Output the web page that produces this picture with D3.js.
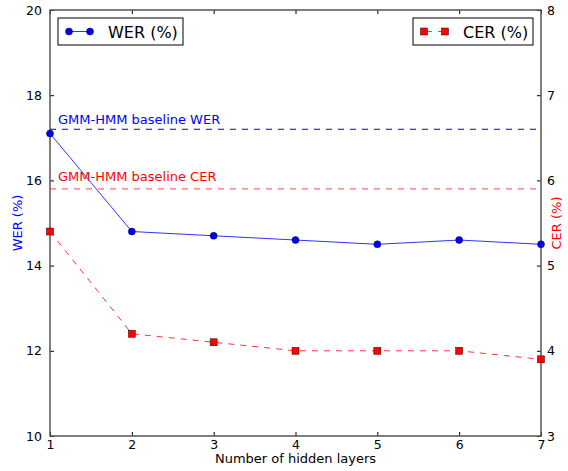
<!DOCTYPE html>
<html>
<head>
<meta charset="utf-8">
<script src="https://cdn.jsdelivr.net/npm/d3@7"></script>
<style>
  body { margin: 0; background: #fff; }
  text { font-family: "DejaVu Sans", sans-serif; }
</style>
</head>
<body>
<svg id="chart" width="568" height="471"></svg>
<script>
const layers = [1, 2, 3, 4, 5, 6, 7];
const werValues = [17.1, 14.8, 14.7, 14.6, 14.5, 14.6, 14.5];
const cerValues = [5.4, 4.2, 4.1, 4.0, 4.0, 4.0, 3.9];
const werBaseline = 17.2;
const cerBaseline = 5.9;
const werTicks = [10, 12, 14, 16, 18, 20];
const cerTicks = [3, 4, 5, 6, 7, 8];

const margin = {top: 10, right: 27, bottom: 35, left: 50};
const width = 568, height = 471;

const svg = d3.select("#chart");

const x = d3.scaleLinear().domain([1, 7]).range([margin.left, width - margin.right]);
const yW = d3.scaleLinear().domain([10, 20]).range([height - margin.bottom, margin.top]);
const yC = d3.scaleLinear().domain([3, 8]).range([height - margin.bottom, margin.top]);

// ticks point inward, like old matplotlib
const axisColor = "#555";
svg.append("g")
  .attr("transform", `translate(0,${height - margin.bottom})`)
  .call(d3.axisBottom(x).tickValues(layers).tickFormat(d3.format("d")).tickSizeInner(-4).tickSizeOuter(0).tickPadding(4))
  .call(g => g.select(".domain").remove());
svg.append("g")
  .attr("transform", `translate(0,${margin.top})`)
  .call(d3.axisTop(x).tickValues(layers).tickFormat("").tickSizeInner(-4).tickSizeOuter(0))
  .call(g => g.select(".domain").remove());
svg.append("g")
  .attr("transform", `translate(${margin.left},0)`)
  .call(d3.axisLeft(yW).tickValues(werTicks).tickFormat(d3.format("d")).tickSizeInner(-4).tickSizeOuter(0).tickPadding(8))
  .call(g => g.select(".domain").remove());
svg.append("g")
  .attr("transform", `translate(${width - margin.right},0)`)
  .call(d3.axisRight(yC).tickValues(cerTicks).tickFormat(d3.format("d")).tickSizeInner(-4).tickSizeOuter(0).tickPadding(6))
  .call(g => g.select(".domain").remove());

svg.selectAll(".tick line").attr("stroke", "#000");
svg.selectAll(".tick text").attr("font-size", 12.5).attr("fill", "#000");

// frame
svg.append("rect")
  .attr("x", margin.left).attr("y", margin.top)
  .attr("width", width - margin.left - margin.right)
  .attr("height", height - margin.top - margin.bottom)
  .attr("fill", "none").attr("stroke", axisColor).attr("stroke-width", 1.5);

// baselines
svg.append("line")
  .attr("x1", margin.left).attr("x2", width - margin.right)
  .attr("y1", yW(werBaseline)).attr("y2", yW(werBaseline))
  .attr("stroke", "#0000cc").attr("stroke-width", 1).attr("stroke-dasharray", "6,6");
svg.append("line")
  .attr("x1", margin.left).attr("x2", width - margin.right)
  .attr("y1", yC(cerBaseline)).attr("y2", yC(cerBaseline))
  .attr("stroke", "#ff4040").attr("stroke-width", 1).attr("stroke-dasharray", "6,6");
svg.append("text")
  .attr("x", 58).attr("y", yW(werBaseline) - 5)
  .attr("font-size", 13).attr("fill", "#0000ff")
  .text("GMM-HMM baseline WER");
svg.append("text")
  .attr("x", 58).attr("y", yC(cerBaseline) - 8)
  .attr("font-size", 13).attr("fill", "#ff0000")
  .text("GMM-HMM baseline CER");

// WER series
svg.append("path")
  .datum(layers.map((l, i) => [l, werValues[i]]))
  .attr("fill", "none").attr("stroke", "#3333ff").attr("stroke-width", 1)
  .attr("d", d3.line().x(d => x(d[0])).y(d => yW(d[1])));
svg.append("g").selectAll("circle")
  .data(layers.map((l, i) => [l, werValues[i]]))
  .join("circle")
  .attr("cx", d => x(d[0])).attr("cy", d => yW(d[1])).attr("r", 3.5)
  .attr("fill", "#0000ff").attr("stroke", "#000033").attr("stroke-width", 0.5);

// CER series
svg.append("path")
  .datum(layers.map((l, i) => [l, cerValues[i]]))
  .attr("fill", "none").attr("stroke", "#ff3333").attr("stroke-width", 1)
  .attr("stroke-dasharray", "6,6")
  .attr("d", d3.line().x(d => x(d[0])).y(d => yC(d[1])));
svg.append("g").selectAll("rect")
  .data(layers.map((l, i) => [l, cerValues[i]]))
  .join("rect")
  .attr("x", d => x(d[0]) - 3.5).attr("y", d => yC(d[1]) - 3.5)
  .attr("width", 7).attr("height", 7)
  .attr("fill", "#ff0000").attr("stroke", "#330000").attr("stroke-width", 0.5);

// axis labels
svg.append("text")
  .attr("x", (margin.left + width - margin.right) / 2).attr("y", 463)
  .attr("text-anchor", "middle").attr("font-size", 13).attr("fill", "#000")
  .text("Number of hidden layers");
svg.append("text")
  .attr("transform", `translate(22,${(margin.top + height - margin.bottom) / 2}) rotate(-90)`)
  .attr("text-anchor", "middle").attr("font-size", 13).attr("fill", "#0000ff")
  .text("WER (%)");
svg.append("text")
  .attr("transform", `translate(566,${(margin.top + height - margin.bottom) / 2}) rotate(-90)`)
  .attr("text-anchor", "middle").attr("font-size", 13).attr("fill", "#ff0000")
  .attr("dy", "-0.35em")
  .text("CER (%)");

// legends
function legend(x0, y0, w, label, kind) {
  const g = svg.append("g").attr("transform", `translate(${x0},${y0})`);
  g.append("rect").attr("width", w).attr("height", 27)
    .attr("fill", "#fff").attr("stroke", "#000").attr("stroke-width", 1);
  if (kind === "wer") {
    g.append("line").attr("x1", 11).attr("x2", 32).attr("y1", 13.5).attr("y2", 13.5)
      .attr("stroke", "#3333ff").attr("stroke-width", 1);
    [11, 32].forEach(cx => g.append("circle").attr("cx", cx).attr("cy", 13.5).attr("r", 3.5)
      .attr("fill", "#0000ff").attr("stroke", "#000033").attr("stroke-width", 0.5));
  } else {
    g.append("line").attr("x1", 11).attr("x2", 32).attr("y1", 13.5).attr("y2", 13.5)
      .attr("stroke", "#ff3333").attr("stroke-width", 1).attr("stroke-dasharray", "6,6").attr("stroke-dashoffset", -2);
    [11, 32].forEach(cx => g.append("rect").attr("x", cx - 3.5).attr("y", 10).attr("width", 7).attr("height", 7)
      .attr("fill", "#ff0000").attr("stroke", "#330000").attr("stroke-width", 0.5));
  }
  g.append("text").attr("x", 50).attr("y", 19.5).attr("font-size", 16).attr("fill", "#000").text(label);
}
legend(58, 18, 125, "WER (%)", "wer");
legend(413, 18, 120, "CER (%)", "cer");
</script>
</body>
</html>
